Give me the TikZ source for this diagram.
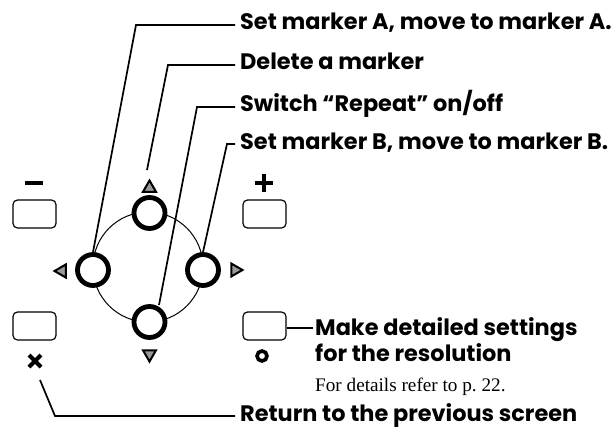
\documentclass[tikz,border=0pt]{standalone}
\usepackage{fontspec}
\newfontfamily\labfont{Poppins}
\newfontfamily\reffont{Liberation Serif}
\usetikzlibrary{shapes.geometric}
\tikzset{
  btn/.style={circle,draw,line width=4.8pt,minimum size=31pt,inner sep=0pt},
  key/.style={draw,rounded corners=4.5pt,minimum width=43pt,minimum height=28pt,line width=1.2pt,inner sep=0pt},
  tri/.style={regular polygon,regular polygon sides=3,draw,fill=black!40,line width=2pt,minimum size=15pt,inner sep=0pt},
  lab/.style={anchor=base west,inner sep=0pt,font=\labfont\bfseries\fontsize{22.4}{26}\selectfont},
  reftext/.style={anchor=base west,inner sep=0pt,font=\reffont\fontsize{19.2}{22}\selectfont},
  conn/.style={line width=1.7pt},
}
\begin{document}
\begin{tikzpicture}[x=1pt,y=-1pt]
\useasboundingbox (0,0) rectangle (615,428);
% ring
\node[circle,draw,line width=1pt,minimum size=110pt,inner sep=0pt] (ring) at (148,267) {};
% buttons
\node[btn,fill=white] (up) at (149.5,213) {};
\node[btn,fill=white] (down) at (149.5,322) {};
\node[btn,fill=white] (left) at (93,270) {};
\node[btn,fill=white] (right) at (203,270) {};
% triangles
\node[tri] (tup) at (149.5,188) {};
\node[tri,rotate=180] (tdown) at (149.5,354) {};
\node[tri,rotate=90] (tleft) at (62,271) {};
\node[tri,rotate=-90] (tright) at (235,270) {};
% keys
\node[key] (kminus) at (34.5,214) {};
\node[key] (kplus) at (264.5,214) {};
\node[key] (kx) at (34.5,326) {};
\node[key] (ko) at (264.5,326) {};
% symbols
\draw[line width=4pt] (25,183) -- (43,183);
\draw[line width=4pt] (255,183) -- (273,183) (264,174) -- (264,192);
\draw[line width=4pt] (29,355) -- (41,367) (29,367) -- (41,355);
\node[circle,draw,line width=3.6pt,minimum size=10pt,inner sep=0pt] (osym) at (262,356) {};
% labels
\node[lab] (lA) at (240,30) {Set marker A, move to marker A.};
\node[lab] (lD) at (240,70) {Delete a marker};
\node[lab] (lS) at (240,111) {Switch “Repeat” on/off};
\node[lab] (lB) at (240,149) {Set marker B, move to marker B.};
\node[lab] (lM) at (315,335) {Make detailed settings};
\node[lab] (lM2) at (315,361) {for the resolution};
\node[reftext] (lR) at (315,391) {For details refer to p.~22.};
\node[lab] (lRet) at (240,421) {Return to the previous screen};
% bend points
\coordinate (cA) at (136,25);
\coordinate (cD) at (168,65);
\coordinate (cS) at (197,107);
\coordinate (cB) at (227,144);
\coordinate (cRet) at (55,416);
\coordinate (eD) at (147,170);
\coordinate (eRet) at (40,380);
\coordinate (eS) at (159,305);
% connectors
\draw[conn] (left.north) -- (cA) -- ([xshift=-5pt]lA.west |- cA);
\draw[conn] (eD) -- (cD) -- ([xshift=-5pt]lD.west |- cD);
\draw[conn] (eS) -- (cS) -- ([xshift=-5pt]lS.west |- cS);
\draw[conn] (right.north) -- (cB) -- ([xshift=-5pt]lB.west |- cB);
\draw[conn] (ko.east |- 0,328) -- ([xshift=-2pt]lM.west |- 0,328);
\draw[conn] (eRet) -- (cRet) -- ([xshift=-5pt]lRet.west |- cRet);
\end{tikzpicture}
\end{document}
